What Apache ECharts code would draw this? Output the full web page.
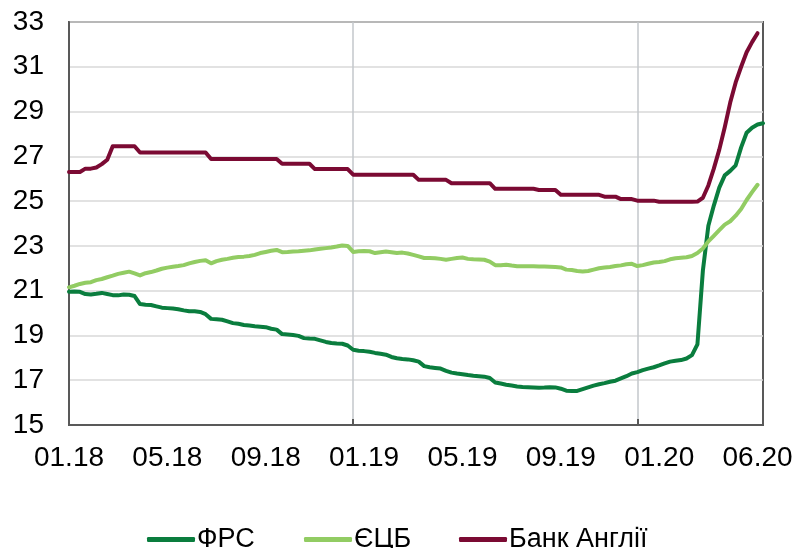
<!DOCTYPE html>
<html>
<head>
<meta charset="utf-8">
<script src="https://cdn.jsdelivr.net/npm/echarts@6/dist/echarts.min.js"></script>
<style>
html,body{margin:0;padding:0;background:#fff;}
#c{width:796px;height:548px;}
</style>
</head>
<body>
<div id="c"></div>
<script>
// Weekly observations, 128 weeks from 01.18 to 06.20
var tickLabels = ['01.18','05.18','09.18','01.19','05.19','09.19','01.20','06.20'];
var seriesNames = ['ФРС','ЄЦБ','Банк Англії'];

var fed = [20.95,20.96,20.95,20.85,20.83,20.86,20.9,20.85,20.8,20.79,
20.83,20.82,20.76,20.4,20.37,20.36,20.3,20.24,20.22,20.2,
20.17,20.12,20.08,20.08,20.05,19.95,19.74,19.72,19.7,19.63,
19.55,19.52,19.47,19.44,19.41,19.39,19.37,19.3,19.26,19.06,
19.04,19.02,18.98,18.88,18.86,18.85,18.78,18.71,18.66,18.64,
18.63,18.55,18.36,18.32,18.3,18.27,18.22,18.18,18.14,18.04,
17.98,17.95,17.93,17.89,17.83,17.63,17.58,17.55,17.52,17.42,
17.34,17.3,17.27,17.23,17.2,17.18,17.16,17.1,16.9,16.85,
16.8,16.76,16.72,16.7,16.69,16.68,16.66,16.67,16.69,16.68,
16.62,16.53,16.52,16.52,16.6,16.68,16.76,16.82,16.87,16.93,
16.98,17.08,17.18,17.3,17.36,17.45,17.52,17.58,17.66,17.75,
17.83,17.87,17.9,17.97,18.12,18.6,21.9,23.9,24.8,25.6,
26.15,26.35,26.6,27.4,28.05,28.28,28.42,28.48];

var ecb = [21.15,21.22,21.3,21.35,21.38,21.47,21.52,21.6,21.67,21.75,
21.8,21.85,21.77,21.68,21.78,21.83,21.9,21.98,22.03,22.07,
22.1,22.14,22.22,22.28,22.33,22.36,22.22,22.32,22.38,22.42,
22.47,22.5,22.52,22.55,22.6,22.68,22.73,22.78,22.82,22.72,
22.73,22.75,22.76,22.78,22.8,22.84,22.87,22.9,22.93,22.97,
23.02,23.0,22.73,22.76,22.77,22.76,22.68,22.72,22.75,22.72,
22.68,22.7,22.66,22.6,22.53,22.46,22.46,22.45,22.42,22.38,
22.42,22.46,22.48,22.42,22.4,22.39,22.38,22.3,22.14,22.14,
22.16,22.12,22.09,22.09,22.09,22.09,22.08,22.08,22.07,22.06,
22.04,21.94,21.92,21.88,21.86,21.88,21.94,22.0,22.03,22.06,
22.1,22.13,22.18,22.2,22.1,22.14,22.2,22.26,22.28,22.32,
22.4,22.45,22.47,22.49,22.55,22.68,22.88,23.2,23.45,23.7,
23.95,24.1,24.35,24.65,25.05,25.4,25.73,null];

var boe = [26.3,26.3,26.3,26.45,26.45,26.5,26.65,26.85,27.45,27.45,
27.45,27.45,27.45,27.17,27.17,27.17,27.17,27.17,27.17,27.17,
27.17,27.17,27.17,27.17,27.17,27.17,26.88,26.88,26.88,26.88,
26.88,26.88,26.88,26.88,26.88,26.88,26.88,26.88,26.88,26.67,
26.67,26.67,26.67,26.67,26.67,26.43,26.43,26.43,26.43,26.43,
26.43,26.43,26.18,26.18,26.18,26.18,26.18,26.18,26.18,26.18,
26.18,26.18,26.18,26.18,25.95,25.95,25.95,25.95,25.95,25.95,
25.8,25.8,25.8,25.8,25.8,25.8,25.8,25.8,25.55,25.55,
25.55,25.55,25.55,25.55,25.55,25.55,25.5,25.5,25.5,25.5,
25.28,25.28,25.28,25.28,25.28,25.28,25.28,25.28,25.2,25.2,
25.2,25.09,25.09,25.09,25.02,25.02,25.02,25.02,24.97,24.97,
24.97,24.97,24.97,24.97,24.97,24.98,25.15,25.7,26.45,27.3,
28.3,29.4,30.3,31.0,31.65,32.1,32.5,null];

var categories = fed.map(function(_, i){ return i; });
var labelStep = 18;
var yearTickStep = 52;

var colors = ['#0a7d3e','#92cc63','#7b0a33'];
var font = '"Liberation Sans", Arial, sans-serif';
var legendLefts = [142, 299, 454];

var chart = echarts.init(document.getElementById('c'), null, {renderer:'canvas'});
function mkSeries(name, data, color){
  return {
    name: name, type: 'line', data: data, showSymbol: false, symbol: 'none',
    smooth: false, connectNulls: false,
    lineStyle: {color: color, width: 4, cap: 'round', join: 'round'},
    itemStyle: {color: color},
    emphasis: {disabled: true}
  };
}
chart.setOption({
  animation: false,
  grid: {left: 69, right: 33, top: 22, bottom: 123, show: true,
         borderColor: '#595959', borderWidth: 2, backgroundColor: 'transparent'},
  legend: seriesNames.map(function(n, i){
    return {
      data: [{name: n, icon: 'roundRect', itemStyle: {color: colors[i]}}],
      left: legendLefts[i], top: 521, itemWidth: 48, itemHeight: 5,
      selectedMode: false,
      textStyle: {fontSize: 27, fontFamily: font, color: '#000', padding: [0,0,0,-3]}
    };
  }),
  xAxis: {
    type: 'category', data: categories, boundaryGap: false,
    axisLine: {show: true, lineStyle: {color: '#595959', width: 2}},
    axisTick: {show: true, inside: true, length: 6, interval: yearTickStep - 1,
               lineStyle: {color: '#595959', width: 2}},
    splitLine: {show: true, interval: yearTickStep - 1, lineStyle: {color: '#c3c7cb', width: 1.5}},
    axisLabel: {
      interval: labelStep - 1, margin: 19, fontSize: 28, fontFamily: font, color: '#000',
      formatter: function(v, idx){ var k = Math.round(idx / labelStep); return tickLabels[k] || ''; }
    }
  },
  yAxis: {
    type: 'value', min: 15, max: 33, interval: 2,
    axisLine: {show: true, lineStyle: {color: '#595959', width: 2}},
    axisTick: {show: false},
    splitLine: {show: true, lineStyle: {color: '#d9d9d9', width: 1.5}},
    axisLabel: {margin: 25, fontSize: 28, fontFamily: font, color: '#000'}
  },
  series: [
    mkSeries(seriesNames[0], fed, colors[0]),
    mkSeries(seriesNames[1], ecb, colors[1]),
    mkSeries(seriesNames[2], boe, colors[2])
  ]
});
</script>
</body>
</html>
